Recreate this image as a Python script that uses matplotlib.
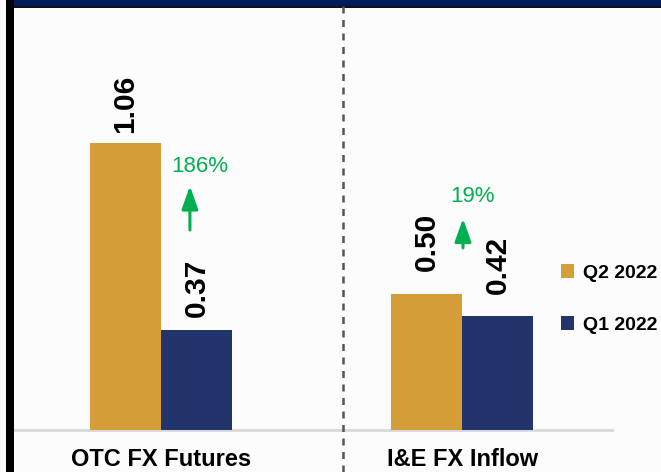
import numpy as np
import matplotlib.pyplot as plt
from matplotlib.patches import Rectangle
from matplotlib.lines import Line2D

plt.rcParams['font.family'] = ['Liberation Sans', 'DejaVu Sans']

categories = ['OTC FX Futures', 'I&E FX Inflow']
q2_2022 = [1.06, 0.50]
q1_2022 = [0.37, 0.42]
growth = ['186%', '19%']
series_names = ['Q2 2022', 'Q1 2022']

gold = '#D69E38'
navy = '#23336B'
green = '#00B050'

W, H = 661, 472
fig = plt.figure(figsize=(W / 100, H / 100), dpi=100)
fig.patch.set_facecolor('#FCFCFC')

# axes placed in pixels: baseline at y=430, spans x 12..612
ax = fig.add_axes([12 / W, (H - 430) / H, 600 / W, 422 / H])
ax.set_facecolor('none')

x = np.arange(len(categories))
width = 0.236
b2 = ax.bar(x - width / 2, q2_2022, width, color=gold, label=series_names[0], zorder=3)
b1 = ax.bar(x + width / 2, q1_2022, width, color=navy, label=series_names[1], zorder=3)

ax.set_xlim(-0.495, 1.498)
ax.set_ylim(0, 1.557)

# value labels
pads = [[7, 17], [9, 16]]
for i, bars in enumerate([b2, b1]):
    for j, r in enumerate(bars):
        ax.annotate(f'{r.get_height():.2f}', (r.get_x() + r.get_width() / 2, r.get_height()),
                    xytext=(0, pads[i][j]), textcoords='offset points',
                    rotation=90, ha='center', va='bottom',
                    fontsize=21.5, fontweight='bold', color='black')

# growth arrows and text
arrow_pos = [(0.096, 0.738, 0.900), (1.003, 0.672, 0.780)]
text_pos = [(0.130, 0.974), (1.033, 0.863)]
for (ax_x, y0, y1), (tx, ty), g in zip(arrow_pos, text_pos, growth):
    ax.annotate('', xy=(ax_x, y1), xytext=(ax_x, y0),
                arrowprops=dict(arrowstyle='-|>,head_length=0.7,head_width=0.25',
                                color=green, lw=2.2, mutation_scale=20,
                                shrinkA=0, shrinkB=0))
    ax.text(tx, ty, g, color=green, fontsize=16, ha='center', va='center')

for s in ['top', 'right', 'left']:
    ax.spines[s].set_visible(False)
ax.spines['bottom'].set_color('#D9D9D9')
ax.spines['bottom'].set_linewidth(2)
ax.set_yticks([])
ax.set_xticks(x, categories)
ax.tick_params(axis='x', length=0, pad=13, labelsize=17)
for t in ax.get_xticklabels():
    t.set_fontweight('bold')

leg = ax.legend(loc='center left', bbox_to_anchor=(553 / W, (H - 299) / H),
                bbox_transform=fig.transFigure, frameon=False,
                prop={'weight': 'bold', 'size': 14}, handlelength=0.7, handleheight=0.7,
                handletextpad=0.45, labelspacing=1.75, borderaxespad=0)

# frame decorations
fig.add_artist(Line2D([343 / W, 343 / W], [0, 1], color='#555555', lw=1.8,
                      linestyle=(0, (2.8, 2.6))))
fig.add_artist(Rectangle((12 / W, (H - 6) / H), 1, 6 / H, color='#001B5A', lw=0))
fig.add_artist(Rectangle((12 / W, (H - 8) / H), 1, 2 / H, color='#111111', lw=0))
fig.add_artist(Rectangle((6 / W, 0), 8 / W, 1, color='black', lw=0))

fig.savefig('out.png', dpi=100, facecolor=fig.get_facecolor())
